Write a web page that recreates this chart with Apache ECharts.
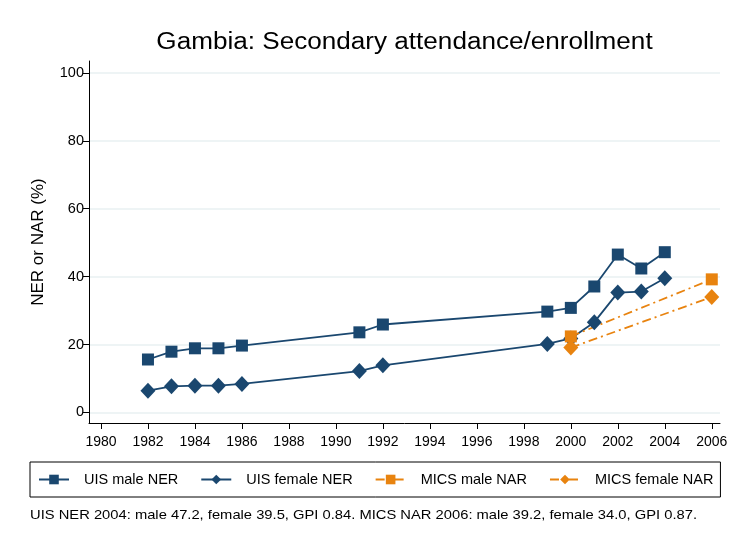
<!DOCTYPE html>
<html><head><meta charset="utf-8">
<script src="https://cdn.jsdelivr.net/npm/echarts@6/dist/echarts.min.js"></script>
<style>html,body{margin:0;padding:0;background:#fff}#c{width:731px;height:536px}</style>
</head><body><div id="c"></div>
<script>
var uisYears = [1982,1983,1984,1985,1986,1991,1992,1999,2000,2001,2002,2003,2004];
var uisMale = [15.6,17.9,18.9,18.9,19.7,23.6,25.9,29.7,30.8,37.1,46.5,42.4,47.2];
var uisFemale = [6.4,7.7,7.9,7.9,8.4,12.2,13.9,20.2,21.8,26.6,35.3,35.6,39.5];
var micsYears = [2000,2006];
var micsMale = [22.4,39.2];
var micsFemale = [19.1,34.0];
var xTicks = [1980,1982,1984,1986,1988,1990,1992,1994,1996,1998,2000,2002,2004,2006];
var yTicks = [0,20,40,60,80,100];
var titleText = 'Gambia: Secondary attendance/enrollment';
var noteText = 'UIS NER 2004: male 47.2, female 39.5, GPI 0.84. MICS NAR 2006: male 39.2, female 34.0, GPI 0.87.';

var NAVY = '#1a476f', ORANGE = '#e8830f';
function pairs(xs, ys){ return xs.map(function(x,i){return [x, ys[i]];}); }
var FONT = '"Liberation Sans", Arial, sans-serif';
var chart = echarts.init(document.getElementById('c'));
chart.setOption({
  animation: false,
  graphic: [
    {type: 'text', x: 404.5, y: 43, scaleX: 1.135,
     style: {text: titleText, textAlign: 'center', textVerticalAlign: 'middle',
       font: '23px ' + FONT, fill: '#000'}},
    {type: 'text', x: 30, y: 515, scaleX: 1.134,
     style: {text: noteText, textAlign: 'left', textVerticalAlign: 'middle',
       font: '13px ' + FONT, fill: '#000'}}
  ],
  grid: {left: 89, right: 11, top: 61, bottom: 113, containLabel: false},
  xAxis: {
    type: 'value', min: 1979.49, max: 2006.35, interval: 2,
    axisLine: {show: true, onZero: false, lineStyle: {color: '#000', width: 1}},
    axisTick: {show: true, length: 6, lineStyle: {color: '#000'},
      customValues: xTicks},
    axisLabel: {fontFamily: FONT, fontSize: 14, color: '#000', margin: 12,
      customValues: xTicks, formatter: function(v){return String(v);}},
    splitLine: {show: false}
  },
  yAxis: {
    type: 'value', min: -3.1, max: 103.5,
    name: 'NER or NAR (%)', nameLocation: 'middle', nameGap: 42,
    nameTextStyle: {fontFamily: FONT, fontSize: 17, color: '#000'},
    axisLine: {show: true, onZero: false, lineStyle: {color: '#000', width: 1}},
    axisTick: {show: true, length: 6, lineStyle: {color: '#000'}, customValues: yTicks},
    axisLabel: {fontFamily: FONT, fontSize: 14.5, color: '#000', margin: 5, customValues: yTicks},
    splitLine: {show: true, lineStyle: {color: '#e8f0f2', width: 1.5}, customValues: yTicks}
  },
  legend: {
    left: 30, top: 462, orient: 'horizontal',
    padding: [10, 7, 10, 8], itemGap: 22, itemWidth: 30, itemHeight: 12,
    borderColor: '#000', borderWidth: 1, borderRadius: 0,
    textStyle: {fontFamily: FONT, fontSize: 14.5, color: '#000', padding: [0,0,0,10]},
    data: ['UIS male NER','UIS female NER','MICS male NAR','MICS female NAR']
  },
  series: [
    {name: 'UIS male NER', type: 'line', data: pairs(uisYears, uisMale),
     symbol: 'rect', symbolSize: 12, itemStyle: {color: NAVY},
     lineStyle: {color: NAVY, width: 1.8}},
    {name: 'UIS female NER', type: 'line', data: pairs(uisYears, uisFemale),
     symbol: 'diamond', symbolSize: [15, 16], itemStyle: {color: NAVY},
     lineStyle: {color: NAVY, width: 1.8}},
    {name: 'MICS male NAR', type: 'line', data: pairs(micsYears, micsMale),
     symbol: 'rect', symbolSize: 12, itemStyle: {color: ORANGE},
     lineStyle: {color: ORANGE, width: 1.8, type: [9, 4, 2, 4]}},
    {name: 'MICS female NAR', type: 'line', data: pairs(micsYears, micsFemale),
     symbol: 'diamond', symbolSize: [15, 16], itemStyle: {color: ORANGE},
     lineStyle: {color: ORANGE, width: 1.8, type: [9, 4, 2, 4]}}
  ]
});
</script></body></html>
